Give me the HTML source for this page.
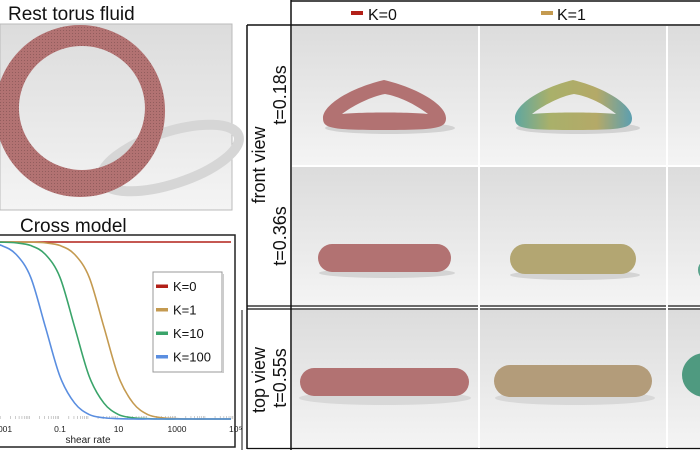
<!DOCTYPE html>
<html><head><meta charset="utf-8"><style>
body{margin:0;width:700px;height:450px;overflow:hidden;background:#fff;font-family:"Liberation Sans","DejaVu Sans",sans-serif;}
svg{position:absolute;left:0;top:0}
</style></head><body>
<svg width="700" height="450" viewBox="0 0 700 450">
<defs>
<linearGradient id="bg" x1="0" y1="0" x2="0" y2="1"><stop offset="0" stop-color="#dcdcdc"/><stop offset="1" stop-color="#f4f4f4"/></linearGradient>
<linearGradient id="gcol" x1="0" y1="0" x2="1" y2="0"><stop offset="0" stop-color="#5fa7a0"/><stop offset="0.3" stop-color="#a9b06a"/><stop offset="0.7" stop-color="#b4a968"/><stop offset="1" stop-color="#5c9fb0"/></linearGradient>
<pattern id="dots" width="3" height="3" patternUnits="userSpaceOnUse"><rect width="3" height="3" fill="none"/><rect width="1" height="1" fill="rgba(0,0,0,0.18)"/></pattern>
</defs>
<!-- rest torus -->
<text x="8" y="20" font-size="19" fill="#111">Rest torus fluid</text>
<rect x="0" y="24" width="232" height="186" fill="url(#bg)" stroke="#bbb"/>
<ellipse cx="170" cy="158" rx="72" ry="26" transform="rotate(-18 170 158)" fill="none" stroke="#d6d6d6" stroke-width="10"/>
<path d="M80,25 a85,86 0 1,0 0.1,0 Z M82,46 a63,62 0 1,1 -0.1,0 Z" fill="#b27272" fill-rule="evenodd"/>
<path d="M80,25 a85,86 0 1,0 0.1,0 Z M82,46 a63,62 0 1,1 -0.1,0 Z" fill="url(#dots)" fill-rule="evenodd"/>
<!-- chart -->
<text x="20" y="232" font-size="19" fill="#111">Cross model</text>
<rect x="-2" y="235" width="237" height="212" fill="#fff" stroke="#222" stroke-width="1.5"/>
<g id="chart"></g>
<!-- right panel -->
<g>
<rect x="292" y="26" width="186" height="139" fill="url(#bg)"/>
<rect x="480" y="26" width="186" height="139" fill="url(#bg)"/>
<rect x="668" y="26" width="32" height="139" fill="url(#bg)"/>
<rect x="292" y="167" width="186" height="138" fill="url(#bg)"/>
<rect x="480" y="167" width="186" height="138" fill="url(#bg)"/>
<rect x="668" y="167" width="32" height="138" fill="url(#bg)"/>
<rect x="292" y="310" width="186" height="138" fill="url(#bg)"/>
<rect x="480" y="310" width="186" height="138" fill="url(#bg)"/>
<rect x="668" y="310" width="32" height="138" fill="url(#bg)"/>
<ellipse cx="390" cy="128" rx="65" ry="6" fill="#d2d2d2"/><ellipse cx="578" cy="128" rx="62" ry="6" fill="#d2d2d2"/>
<ellipse cx="387" cy="273" rx="68" ry="5" fill="#d4d4d4"/><ellipse cx="575" cy="275" rx="65" ry="5" fill="#d4d4d4"/>
<ellipse cx="385" cy="398" rx="86" ry="7" fill="#d8d8d8"/><ellipse cx="575" cy="398" rx="80" ry="7" fill="#d8d8d8"/>
<path d="M323,118 C323,105 350,88 384,80 C418,88 446,105 446,118 C446,128 438,130 384,130 C330,130 323,128 323,118 Z M342,114 C360,112 410,112 428,114 C415,104 398,96 385,94 C372,96 352,106 342,114 Z" fill="#b27272" fill-rule="evenodd"/>
<path d="M515,118 C515,105 540,88 573,80 C606,88 632,105 632,118 C632,128 625,130 573,130 C521,130 515,128 515,118 Z M532,114 C550,112 598,112 616,114 C604,104 588,96 574,94 C561,96 542,106 532,114 Z" fill="url(#gcol)" fill-rule="evenodd"/>
<rect x="318" y="244" width="133" height="28" rx="14" fill="#b27272"/>
<rect x="510" y="244" width="126" height="30" rx="15" fill="#b3a672"/>
<ellipse cx="702" cy="270" rx="4" ry="7" fill="#5aa38c"/>
<rect x="300" y="368" width="169" height="28" rx="14" fill="#b27272"/>
<rect x="494" y="365" width="158" height="32" rx="16" fill="#b39c7a"/>
<ellipse cx="705" cy="375" rx="23" ry="22" fill="#4f9a80"/>
</g>
<g stroke="#111" fill="none">
<line x1="291" y1="0" x2="291" y2="450" stroke-width="1.5"/>
<line x1="291" y1="1" x2="700" y2="1" stroke-width="1.5"/>
<line x1="247" y1="25" x2="700" y2="25" stroke-width="1.5"/>
<line x1="247" y1="25" x2="247" y2="449" stroke-width="1.5"/>
<line x1="242" y1="310" x2="242" y2="450" stroke-width="1"/>
<line x1="247" y1="306" x2="700" y2="306" stroke-width="1.2"/>
<line x1="247" y1="309" x2="700" y2="309" stroke-width="1.2"/>
<line x1="247" y1="448.5" x2="700" y2="448.5" stroke-width="1.2"/>
</g>
<g stroke="#fff" stroke-width="2"><line x1="479" y1="26" x2="479" y2="448"/><line x1="667" y1="26" x2="667" y2="448"/><line x1="292" y1="166" x2="700" y2="166"/></g>
<rect x="351" y="11" width="12" height="4" fill="#b22018"/>
<text x="368" y="20" font-size="16" fill="#111">K=0</text>
<rect x="541" y="11" width="12" height="4" fill="#c49a50"/>
<text x="557" y="20" font-size="16" fill="#111">K=1</text>
<text transform="translate(265,165) rotate(-90)" text-anchor="middle" font-size="18" fill="#111">front view</text>
<text transform="translate(286,95) rotate(-90)" text-anchor="middle" font-size="18" fill="#111">t=0.18s</text>
<text transform="translate(286,236) rotate(-90)" text-anchor="middle" font-size="18" fill="#111">t=0.36s</text>
<text transform="translate(265,380) rotate(-90)" text-anchor="middle" font-size="18" fill="#111">top view</text>
<text transform="translate(286,378) rotate(-90)" text-anchor="middle" font-size="18" fill="#111">t=0.55s</text>
</svg>
<script>
const logX=[-4,-3.5,-3,-2.5,-2,-1.5,-1,-0.5,0,0.5,1,1.5,2,2.5,3,3.5,4,4.5,5];
const seriesK0=[1,1,1,1,1,1,1,1,1,1,1,1,1,1,1,1,1,1,1];
const seriesK1=[1,1,1,1,0.999,0.995,0.98,0.93,0.8,0.52,0.24,0.09,0.025,0.007,0.002,0,0,0,0];
const seriesK10=[1,1,0.999,0.995,0.98,0.93,0.8,0.52,0.24,0.09,0.025,0.007,0.002,0,0,0,0,0,0];
const seriesK100=[0.999,0.995,0.98,0.93,0.8,0.52,0.24,0.09,0.025,0.007,0.002,0,0,0,0,0,0,0,0];
const legendLabels=["K=0","K=1","K=10","K=100"];
const tickVals=[-3,-1,1,3,5];
const tickLabels=["0.001","0.1","10","1000","10\u2075"];
const NS="http://www.w3.org/2000/svg";
const g=document.getElementById('chart');
const xs=v=>60+(v+1)*29.25;
const ys=v=>419-v*177;
const colors=["#b22018","#c49a50","#3aa46a","#5a8ee0"];
const all=[seriesK0,seriesK1,seriesK10,seriesK100];
function mk(t,a){const e=document.createElementNS(NS,t);for(const k in a)e.setAttribute(k,a[k]);g.appendChild(e);return e;}
for(let d=-4;d<5;d++){for(let m=2;m<10;m++){const x=xs(d+Math.log10(m));if(x>0&&x<235){const t=mk('line',{x1:x,x2:x,y1:419,y2:416,stroke:'#aaa','stroke-width':0.6});

}}}
function path(vals){let pts=vals.map((v,i)=>[xs(logX[i]),ys(v)]);let d='M'+pts[0][0]+','+pts[0][1];
for(let i=0;i<pts.length-1;i++){const p0=pts[Math.max(0,i-1)],p1=pts[i],p2=pts[i+1],p3=pts[Math.min(pts.length-1,i+2)];
d+=` C${p1[0]+(p2[0]-p0[0])/6},${p1[1]+(p2[1]-p0[1])/6} ${p2[0]-(p3[0]-p1[0])/6},${p2[1]-(p3[1]-p1[1])/6} ${p2[0]},${p2[1]}`;}return d;}
const clip=document.createElementNS(NS,'clipPath');clip.id='pc';const cr=document.createElementNS(NS,'rect');cr.setAttribute('x',0);cr.setAttribute('y',236);cr.setAttribute('width',231);cr.setAttribute('height',200);clip.appendChild(cr);g.appendChild(clip);
all.forEach((s,i)=>{const p=mk('path',{d:path(s),fill:'none',stroke:colors[i],'stroke-width':1.6,'clip-path':'url(#pc)'});

});
tickVals.forEach((v,i)=>{const t=mk('text',{x:xs(v),y:432,'font-size':8.5,'text-anchor':'middle',fill:'#222'});t.textContent=tickLabels[i];

});
const xl=mk('text',{x:88,y:443,'font-size':10,'text-anchor':'middle',fill:'#222'});xl.textContent='shear rate';


const lb=mk('rect',{x:153,y:272,width:69,height:100,fill:'#fff',stroke:'#999'});


mk('line',{x1:223,y1:274,x2:223,y2:373,stroke:'#ccc','stroke-width':2});
legendLabels.forEach((l,i)=>{const y=286+i*23.5;
const sw=mk('rect',{x:156,y:y-1.5,width:12,height:3.5,fill:colors[i]});


const t=mk('text',{x:173,y:y+5,'font-size':13,fill:'#111'});t.textContent=l;

});
</script>
</body></html>
